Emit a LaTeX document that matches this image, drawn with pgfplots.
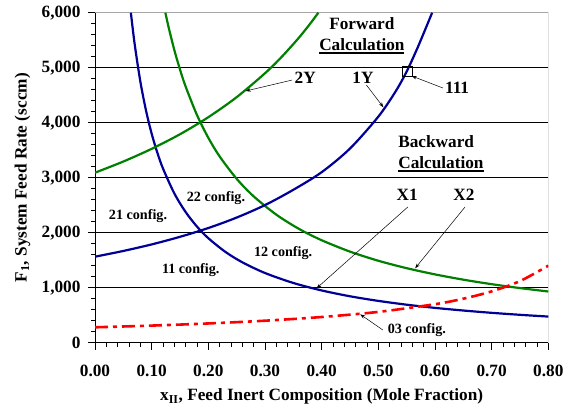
\documentclass[border=0pt]{standalone}
\usepackage{fontspec}
\setmainfont{Liberation Serif}
\usepackage{pgfplots}
\pgfplotsset{compat=1.18}
\usetikzlibrary{arrows.meta}
\newcommand{\uline}[1]{\setbox0\hbox{#1}\leavevmode\rlap{\rule[-3.2bp]{\wd0}{1.8bp}}\box0}
\definecolor{navy}{RGB}{0,0,150}
\definecolor{dgreen}{RGB}{0,128,0}
\newcommand{\fa}{\fontsize{17.3}{21}\selectfont\bfseries}
\newcommand{\fb}{\fontsize{14.2}{16}\selectfont\bfseries}
\begin{document}
\begin{tikzpicture}
\begin{axis}[
  scale only axis, width=453.3bp, height=330bp,
  xmin=0, xmax=0.8, ymin=0, ymax=6000,
  axis lines=left, axis line style={-, black, line width=0.8pt},
  xtick={0,0.1,0.2,0.3,0.4,0.5,0.6,0.7,0.8},
  ytick={0,1000,2000,3000,4000,5000,6000},
  minor x tick num=4, minor y tick num=4,
  tick align=outside, major tick length=7bp, minor tick length=4bp,
  tick style={black, line width=0.6pt},
  ymajorgrids, grid style={black, line width=0.6pt},
  xticklabel style={font=\fa, yshift=-12bp, /pgf/number format/.cd, fixed, fixed zerofill, precision=2, assume math mode=true},
  yticklabel style={font=\fa, xshift=-4bp, /pgf/number format/.cd, 1000 sep={,}, assume math mode=true},
  scaled ticks=false,
  xlabel={x\textsubscript{II}, Feed Inert Composition (Mole Fraction)},
  ylabel={F\textsubscript{1}, System Feed Rate (sccm)},
  label style={font=\fa},
  xlabel style={at={(axis description cs:0.5,-0.163)}, anchor=center},
  ylabel style={at={(axis description cs:-0.160,0.5)}, anchor=center},
]
\coordinate (SW) at (rel axis cs:0,0);
\coordinate (NE) at (rel axis cs:1,1);
\draw[gray!70, line width=0.8pt] (rel axis cs:0,1) -- (rel axis cs:1,1) -- (rel axis cs:1,0);

% X1 (blue decreasing)
\addplot[navy, line width=2.2bp, smooth] coordinates {
(0.0633,6000) (0.07,5429) (0.08,4750) (0.09,4222) (0.10,3800) (0.11,3455) (0.12,3167)
(0.14,2714) (0.16,2375) (0.18,2111) (0.20,1900) (0.23,1652) (0.26,1462) (0.30,1267)
(0.35,1086) (0.40,950) (0.45,844) (0.50,760) (0.55,691) (0.60,633) (0.65,585)
(0.70,543) (0.75,507) (0.80,475)};
% X2 (green decreasing)
\addplot[dgreen, line width=2.2bp, smooth] coordinates {
(0.1242,6000) (0.13,5731) (0.14,5321) (0.15,4967) (0.16,4656) (0.18,4139) (0.20,3725)
(0.22,3386) (0.25,2980) (0.28,2661) (0.32,2328) (0.36,2069) (0.40,1863) (0.45,1656)
(0.50,1490) (0.55,1355) (0.60,1242) (0.65,1146) (0.70,1064) (0.75,993) (0.80,931)};
% 2Y (green increasing)
\addplot[dgreen, line width=2.2bp, smooth] coordinates {
(0,3091) (0.05,3294) (0.10,3525) (0.15,3790) (0.20,4100) (0.25,4464) (0.30,4899)
(0.33,5203) (0.36,5547) (0.38,5804) (0.3942,6000)};
% 1Y (blue increasing)
\addplot[navy, line width=2.2bp, smooth] coordinates {
(0,1564) (0.05,1668) (0.10,1787) (0.15,1925) (0.20,2085) (0.25,2275) (0.30,2502)
(0.35,2780) (0.40,3100) (0.45,3530) (0.50,4110) (0.53,4560) (0.55,4930) (0.57,5380)
(0.595,6000)};
% 03 config (red dash-dot)
\addplot[red, line width=2.6bp, smooth, dash pattern=on 13bp off 5bp on 4bp off 5bp] coordinates {
(0,280) (0.1,311) (0.2,350) (0.3,400) (0.4,467) (0.5,560) (0.6,700) (0.65,800)
(0.7,933) (0.75,1120) (0.8,1400)};
% 111 point
\addplot[only marks, mark=square, mark size=5bp, black, mark options={line width=0.6pt}] coordinates {(0.551,4940)};

% Text
\node[font=\fa, align=center, inner sep=0] at (axis cs:0.471,5576) {Forward\\\uline{Calculation}};
\node[font=\fa, align=left, anchor=west, inner sep=0] at (axis cs:0.535,3440) {Backward\\\uline{Calculation}};
\node[font=\fa] at (axis cs:0.371,4813) {2Y};
\node[font=\fa] at (axis cs:0.473,4813) {1Y};
\node[font=\fa] at (axis cs:0.639,4631) {111};
\node[font=\fa] at (axis cs:0.551,2685) {X1};
\node[font=\fa] at (axis cs:0.651,2685) {X2};
\node[font=\fb] at (axis cs:0.568,231) {03 config.};
\node[font=\fb] at (axis cs:0.2135,2631) {22 config.};
\node[font=\fb] at (axis cs:0.0759,2304) {21 config.};
\node[font=\fb] at (axis cs:0.332,1631) {12 config.};
\node[font=\fb] at (axis cs:0.169,1322) {11 config.};

% Arrows
\draw[-{Stealth[length=5bp,width=3.5bp]}, line width=0.5bp] (axis cs:0.348,4776) -- (axis cs:0.266,4576);
\draw[-{Stealth[length=5bp,width=3.5bp]}, line width=0.5bp] (axis cs:0.479,4685) -- (axis cs:0.509,4280);
\draw[-{Stealth[length=5bp,width=3.5bp]}, line width=0.5bp] (axis cs:0.614,4631) -- (axis cs:0.559,4849);
\draw[-{Stealth[length=5bp,width=3.5bp]}, line width=0.5bp] (axis cs:0.552,2467) -- (axis cs:0.391,989);
\draw[-{Stealth[length=5bp,width=3.5bp]}, line width=0.5bp] (axis cs:0.653,2467) -- (axis cs:0.565,1353);
\draw[-{Stealth[length=5bp,width=3.5bp]}, line width=0.5bp] (axis cs:0.508,231) -- (axis cs:0.468,516);
\end{axis}
\pgfresetboundingbox
\path ([shift={(-95bp,-65.3bp)}]SW) rectangle ([shift={(24.7bp,12.7bp)}]NE);
\end{tikzpicture}
\end{document}
